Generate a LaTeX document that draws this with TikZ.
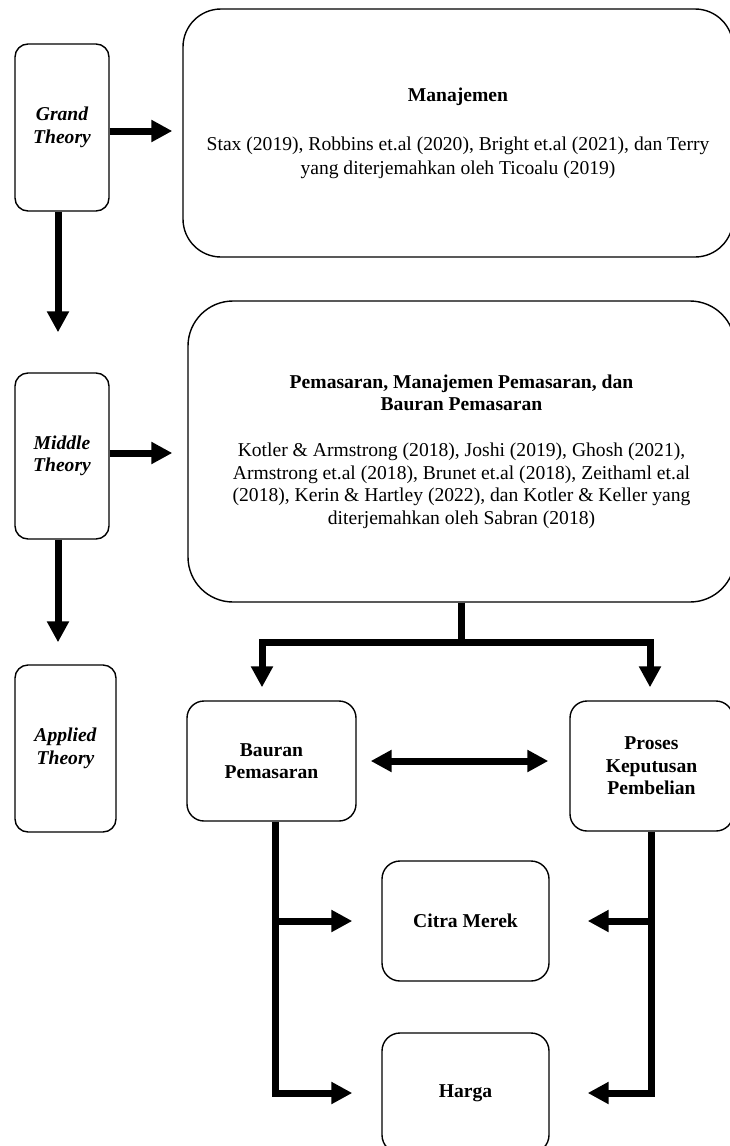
\documentclass[tikz,border=0pt]{standalone}
\usepackage{fontspec}
\setmainfont{Liberation Serif}
\usetikzlibrary{arrows.meta}
\tikzset{
  box/.style={draw=black, line width=1.4pt, inner sep=0pt, align=center, text=black},
  lbox/.style={box, rounded corners=13pt, minimum width=94pt, minimum height=167pt,
    font=\fontsize{19.6}{22.5}\selectfont\bfseries\itshape},
  bigbox/.style={box, font=\fontsize{19.6}{22.5}\selectfont},
  sbox/.style={box, rounded corners=17pt, font=\fontsize{19.6}{22.5}\selectfont\bfseries},
  fat/.style={draw=black, line width=7pt},
  fatarrow/.style={fat, -{Triangle[length=21pt,width=21pt]}},
}
\begin{document}
\begin{tikzpicture}[x=1pt,y=-1pt]
\useasboundingbox[fill=white] (0,0) rectangle (730,1146);

% left column
\node[lbox] (grand) at (62,127.5) {Grand\\Theory};
\node[lbox, minimum height=166pt] (middle) at (62,456) {Middle\\Theory};
\node[lbox, minimum width=101pt] (applied) at (65.5,748.5) {Applied\\Theory};

% big boxes
\node[bigbox, rounded corners=38pt, minimum width=550pt, minimum height=248pt] (man) at (458,133)
  {\textbf{Manajemen}\\[26.5pt]
   Stax (2019), Robbins et.al (2020), Bright et.al (2021), dan Terry\\[1.5pt]
   yang diterjemahkan oleh Ticoalu (2019)};
\node[bigbox, rounded corners=45pt, minimum width=547pt, minimum height=301pt] (pem) at (461.5,451.5)
  {\textbf{Pemasaran, Manajemen Pemasaran, dan}\\
   \textbf{Bauran Pemasaran}\\[23.5pt]
   Kotler \& Armstrong (2018), Joshi (2019), Ghosh (2021),\\
   Armstrong et.al (2018), Brunet et.al (2018), Zeithaml et.al\\
   (2018), Kerin \& Hartley (2022), dan Kotler \& Keller yang\\
   diterjemahkan oleh Sabran (2018)};

% small boxes
\node[sbox, minimum width=169pt, minimum height=120pt] (bauran) at (271.5,761) {Bauran\\Pemasaran};
\node[sbox, minimum width=163pt, minimum height=130pt] (proses) at (651.5,766) {Proses\\Keputusan\\Pembelian};
\node[sbox, rounded corners=18pt, minimum width=167pt, minimum height=120pt] (citra) at (465.5,921) {Citra Merek};
\node[sbox, rounded corners=18pt, minimum width=167pt, minimum height=120pt] (harga) at (465.5,1093) {Harga};

% left column arrows
\draw[fatarrow, shorten >=10pt] ([yshift=-3.5pt]grand.east) -- ([yshift=-3.5pt]grand.east -| man.west);
\draw[fatarrow, shorten >=40pt] ([xshift=-4pt]grand.south) -- ([xshift=-4pt]grand.south |- middle.north);
\draw[fatarrow, shorten >=15pt] ([yshift=3pt]middle.east) -- ([yshift=3pt]middle.east -| pem.west);
\draw[fatarrow, shorten >=22pt] ([xshift=-4pt]middle.south) -- ([xshift=-4pt]middle.south |- applied.north);

% tree from pemasaran
\coordinate (jl) at (262,642);
\coordinate (jr) at (650,642);
\draw[fatarrow, shorten >=13pt] (pem.south) |- (jl) -- (jl |- bauran.north);
\draw[fatarrow, shorten >=13pt] (pem.south) |- (jr) -- (jr |- proses.north);

% double arrow
\draw[fat, {Triangle[length=21pt,width=21pt]}-{Triangle[length=21pt,width=21pt]}, shorten <=14pt, shorten >=21pt]
  (bauran.east) -- (bauran.east -| proses.west);

% left branch
\draw[fatarrow] ([xshift=3.5pt]bauran.south) |- ([xshift=-29pt]harga.west);
\draw[fatarrow] ([xshift=3.5pt]bauran.south |- citra.west) -- ([xshift=-29pt]citra.west);

% right branch
\draw[fatarrow] (proses.south) |- ([xshift=38pt]harga.east);
\draw[fatarrow] (proses.south |- citra.east) -- ([xshift=38pt]citra.east);
\end{tikzpicture}
\end{document}
